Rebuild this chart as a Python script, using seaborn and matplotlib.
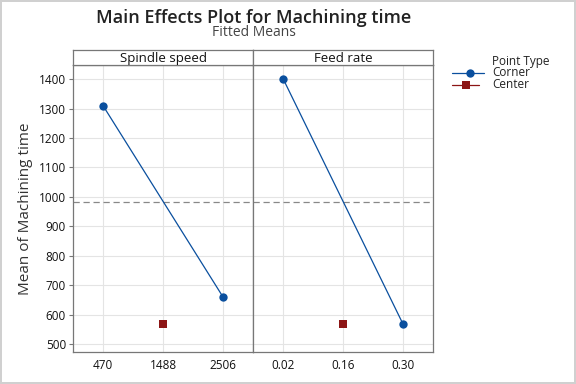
import numpy as np
import pandas as pd
import seaborn as sns
from matplotlib import pyplot as plt

factors = ['Spindle speed', 'Feed rate']
levels = {'Spindle speed': ['470', '1488', '2506'],
          'Feed rate': ['0.02', '0.16', '0.30']}
corner_means = {'Spindle speed': [1310, 660], 'Feed rate': [1402, 568]}
center_mean = 568
grand_mean = 983

sns.set_style('white')
plt.rcParams['font.family'] = ['Open Sans', 'DejaVu Sans']

fig = plt.figure(figsize=(5.76, 3.84), dpi=100)
fig.patch.set_edgecolor('#d0d0d0')
fig.patch.set_linewidth(1.5)

blue = '#0a4f9e'
red = '#8c1515'
left, bottom, w, h = 73 / 576, 1 - 352 / 384, 180 / 576, (352 - 65) / 384
hh = 15 / 384

for k, f in enumerate(factors):
    ax = fig.add_axes([left + k * w, bottom, w, h])
    corner = pd.DataFrame({'x': [0, 2], 'y': corner_means[f]})
    center = pd.DataFrame({'x': [1], 'y': [center_mean]})
    ax.axhline(grand_mean, color='#888888', ls=(0, (5, 3)), lw=0.9, zorder=1)
    sns.lineplot(data=corner, x='x', y='y', color=blue, lw=0.9, marker='o',
                 markersize=6, markeredgewidth=0, ax=ax, zorder=3)
    sns.scatterplot(data=center, x='x', y='y', color=red, marker='s', s=36,
                    linewidth=0, ax=ax, zorder=3)
    ax.set_xlim(-0.5, 2.5)
    ax.set_ylim(473, 1448)
    ax.set_xticks([0, 1, 2])
    ax.set_xticklabels(levels[f], fontsize=8.5, color='#111111')
    ax.set_yticks(np.arange(500, 1401, 100))
    ax.grid(True, color='#e4e4e4', lw=0.8)
    ax.set_axisbelow(True)
    ax.set_xlabel('')
    ax.set_ylabel('')
    for s in ax.spines.values():
        s.set_color('#777777')
        s.set_linewidth(0.9)
    ax.tick_params(axis='x', length=0, pad=5)
    if k == 0:
        ax.tick_params(axis='y', length=3, color='#777777', labelsize=8.5, pad=2,
                       left=True, labelcolor='#111111')
        ax.set_ylabel('Mean of Machining time', fontsize=11, color='#333333', labelpad=4)
    else:
        ax.tick_params(axis='y', left=False, labelleft=False)
    hx = fig.add_axes([left + k * w, bottom + h, w, hh])
    hx.set_xticks([])
    hx.set_yticks([])
    for s in hx.spines.values():
        s.set_color('#777777')
        s.set_linewidth(0.9)
    hx.text(0.5, 0.45, f, ha='center', va='center', fontsize=9.5, color='#111111',
            transform=hx.transAxes)

fig.text(254 / 576, 1 - 18 / 384, 'Main Effects Plot for Machining time', ha='center',
         va='center', fontsize=13, color='#222222', fontweight='semibold')
fig.text(254 / 576, 1 - 33 / 384, 'Fitted Means', ha='center', va='center',
         fontsize=10, color='#444444')

lax = fig.add_axes([445 / 576, 1 - 95 / 384, 120 / 576, 45 / 384])
lax.axis('off')
lax.set_xlim(0, 120)
lax.set_ylim(95, 50)
lax.text(47, 61, 'Point Type', fontsize=8.5, va='center', color='#222222')
lax.plot([7, 39], [73, 73], color=blue, lw=0.9)
lax.plot([25], [73], 'o', color=blue, ms=6, mew=0)
lax.text(47, 73, 'Corner', fontsize=8.5, va='center', color='#222222')
lax.plot([7, 34], [85, 85], color=red, lw=0.9)
lax.plot([21], [85], 's', color=red, ms=6, mew=0)
lax.text(47, 85, 'Center', fontsize=8.5, va='center', color='#222222')

fig.savefig('out.png', dpi=100)
